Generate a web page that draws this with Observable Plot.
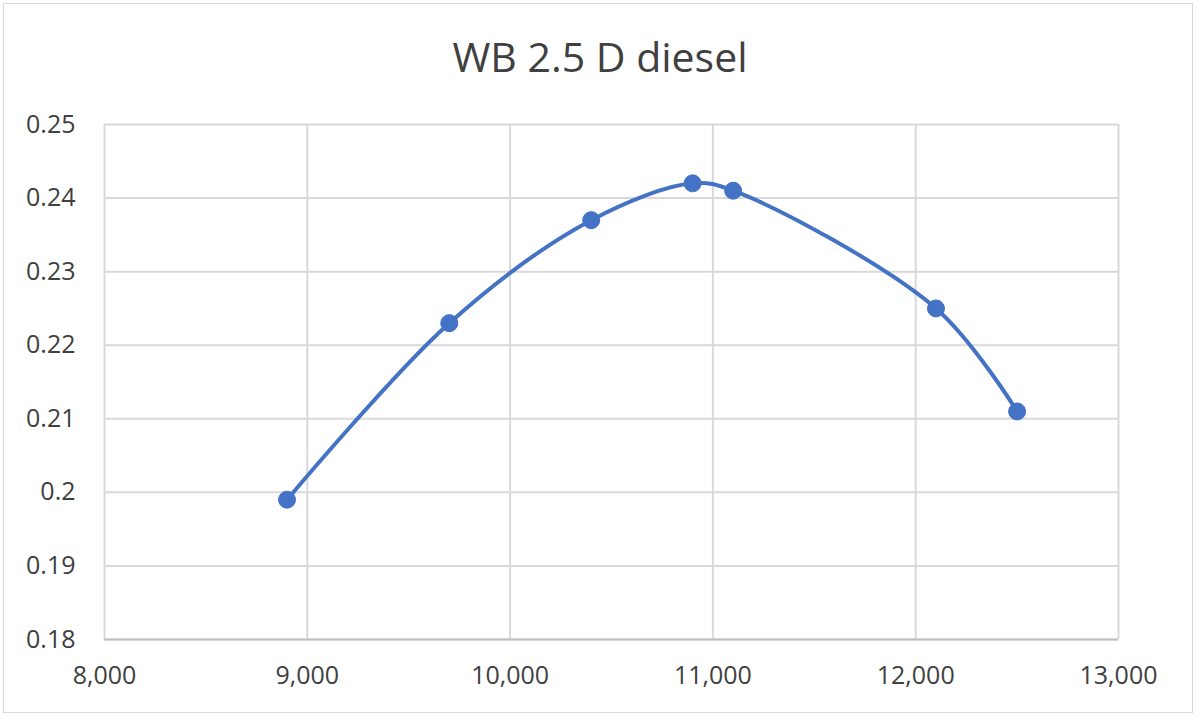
<!DOCTYPE html>
<html>
<head>
<meta charset="utf-8">
<script src="https://cdn.jsdelivr.net/npm/d3@7"></script>
<script src="https://cdn.jsdelivr.net/npm/@observablehq/plot@0.6"></script>
<style>
  html, body { margin: 0; padding: 0; background: #fff; }
  #frame { position: absolute; left: 3px; top: 3px; width: 1190px; height: 710px; border: 1.5px solid #d9d9d9; box-sizing: border-box; }
  #wrap { position: absolute; left: 0; top: 0; width: 1200px; height: 720px; }
  #title { position: absolute; left: 0; top: 0; width: 1200px; height: 100px; text-align: center;
    font-family: "Open Sans", "Noto Sans", sans-serif; font-size: 41px; color: #404040; line-height: 100px; padding-top: 6px; box-sizing: border-box; }
  #chart { position: absolute; left: 0; top: 100px; }
</style>
</head>
<body>
<div id="frame"></div>
<div id="wrap">
  <div id="title">WB 2.5 D diesel</div>
  <div id="chart"></div>
</div>
<script>
const xValues = [8900, 9700, 10400, 10900, 11100, 12100, 12500];
const yValues = [0.199, 0.223, 0.237, 0.242, 0.241, 0.225, 0.211];
const xTicks = [8000, 9000, 10000, 11000, 12000, 13000];
const yTicks = [0.18, 0.19, 0.20, 0.21, 0.22, 0.23, 0.24, 0.25];

const data = xValues.map((x, i) => ({x, y: yValues[i]}));
const blue = "#4472c4";
const grid = "#d9d9d9";

const chart = Plot.plot({
  width: 1200,
  height: 620,
  marginLeft: 104,
  marginRight: 82,
  marginTop: 24,
  marginBottom: 81,
  style: { fontFamily: "'Open Sans', 'Noto Sans', sans-serif", fontSize: "25px", color: "#404040", background: "transparent" },
  x: { domain: [8000, 13000], ticks: xTicks, tickFormat: d3.format(","), tickSize: 0, tickPadding: 27, label: null },
  y: { domain: [0.18, 0.25], ticks: yTicks, tickFormat: d => String(+d.toFixed(2)), tickSize: 0, tickPadding: 29, label: null },
  marks: [
    Plot.ruleX(xTicks, { stroke: grid, strokeWidth: 2 }),
    Plot.ruleY(yTicks, { stroke: grid, strokeWidth: 2 }),
    Plot.ruleY([0.18], { stroke: "#bfbfbf", strokeWidth: 2 }),
    Plot.line(data, { x: "x", y: "y", curve: "catmull-rom", stroke: blue, strokeWidth: 4 }),
    Plot.dot(data, { x: "x", y: "y", r: 8.5, fill: blue, stroke: blue, strokeWidth: 1 })
  ]
});
document.getElementById("chart").appendChild(chart);
</script>
</body>
</html>
